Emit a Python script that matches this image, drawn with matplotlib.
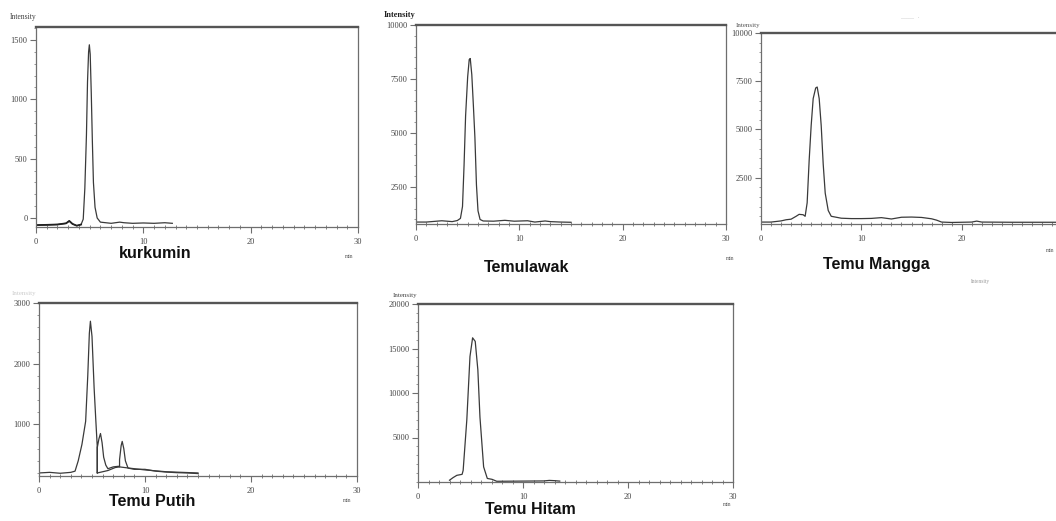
"""
Five HPLC chromatograms (kurkumin + four Curcuma extracts) laid out
as in the scanned figure: three on top, two below.
"""

import matplotlib
matplotlib.use("Agg")
import matplotlib.pyplot as plt
from matplotlib.ticker import MultipleLocator, FixedLocator

W, H = 1056, 521

# ── Traces (retention time in min, intensity) ───────────────────────────
kurkumin_t = [0, 1, 2, 2.8, 3.1, 3.4, 3.8, 4.2, 4.4, 4.55, 4.7, 4.8, 4.9, 4.97,
              5.05, 5.15, 5.25, 5.35, 5.5, 5.7, 6.0, 7.0, 7.8, 8.2, 9, 10, 11, 12, 12.7]
kurkumin_i = [-60, -58, -55, -45, -25, -50, -65, -55, -10, 250, 700, 1150, 1400, 1460,
              1380, 1050, 650, 300, 90, 0, -35, -45, -35, -40, -45, -42, -45, -40, -45]

temulawak_t = [0, 1, 2, 2.5, 3, 3.5, 4, 4.3, 4.5, 4.65, 4.8, 5.0, 5.15, 5.25, 5.4,
               5.55, 5.7, 5.85, 6.0, 6.2, 6.5, 7.5, 8.6, 9.5, 10.8, 11.5, 12.5, 13, 14, 15]
temulawak_i = [880, 880, 920, 940, 920, 900, 950, 1050, 1600, 3500, 5800, 7600, 8400, 8450, 7700,
               6300, 4800, 2600, 1400, 1000, 930, 920, 960, 920, 940, 880, 930, 900, 880, 870]

mangga_t = [0, 1, 2, 2.5, 3, 3.5, 3.8, 4.2, 4.4, 4.6, 4.8, 5.0, 5.2, 5.45, 5.6, 5.8,
            6.0, 6.2, 6.4, 6.7, 7.0, 8.0, 9, 10, 11, 12, 13, 14, 15, 16, 17, 17.5,
            18, 19, 20, 21, 21.5, 22, 25, 30]
mangga_i = [200, 200, 260, 320, 350, 500, 600, 580, 500, 1200, 3400, 5200, 6600, 7150, 7200, 6600,
            5200, 3200, 1700, 800, 500, 400, 380, 380, 390, 430, 360, 450, 460, 440, 370, 300,
            200, 180, 190, 200, 250, 200, 190, 190]

putih_t = [0, 1, 2, 3, 3.4, 3.7, 4.05, 4.4, 4.6, 4.75, 4.85, 5.0, 5.2, 5.35, 5.5, 5.5, 5.5,
           5.65, 5.8, 5.95, 6.1, 6.3, 6.5, 7.0, 7.5, 7.6, 7.6, 7.75, 7.85, 8.0, 8.15, 8.4,
           9, 10, 11, 12, 13, 14, 15]
putih_i = [200, 210, 195, 210, 230, 400, 670, 1050, 1800, 2500, 2700, 2450, 1600, 1100, 620, 200, 620,
           760, 850, 700, 460, 330, 270, 300, 310, 300, 420, 650, 720, 600, 400, 280,
           260, 260, 230, 215, 205, 200, 190]
putih_base_t = [5.5, 6.5, 7.2, 7.6, 8.5, 10, 12, 15]
putih_base_i = [200, 240, 290, 300, 280, 250, 220, 200]

hitam_t = [3.0, 3.35, 3.7, 4.2, 4.3, 4.65, 4.95, 5.2, 5.45, 5.7, 5.9, 6.25, 6.6, 7.05, 7.5,
           12.0, 12.5, 13.0, 13.5]
hitam_i = [200, 500, 750, 860, 1300, 7000, 14100, 16200, 15800, 12600, 7300, 1700, 400, 300, 80,
           120, 180, 150, 100]

x_ticks = [0, 10, 20, 30]
x_labels = ["0", "10", "20", "30"]

panel_names = ["kurkumin", "Temulawak", "Temu Mangga", "Temu Putih", "Temu Hitam"]
y_ticks = [
    [0, 500, 1000, 1500],
    [2500, 5000, 7500, 10000],
    [2500, 5000, 7500, 10000],
    [1000, 2000, 3000],
    [5000, 10000, 15000, 20000],
]
y_limits = [(-76, 1610), (790, 10000), (100, 10000), (150, 3000), (0, 20000)]

LINE = "#3a3a3a"
SPINE = "#6e6e6e"
TICKTXT = "#444444"


def px_rect(left, top, right, bottom):
    return [left / W, 1 - bottom / H, (right - left) / W, (bottom - top) / H]


def ftext(x, y, s, **kw):
    fig.text(x / W, 1 - y / H, s, **kw)


fig = plt.figure(figsize=(W / 100, H / 100), dpi=100)
fig.patch.set_facecolor("white")

rects = [
    px_rect(36, 27, 358, 227),
    px_rect(416, 25, 726, 224),
    px_rect(761, 33, 1062, 224),     # runs past the right edge, as in the scan
    px_rect(39, 303, 357, 476),
    px_rect(418, 304, 733, 482),
]
y_minor = [100, 500, 500, 200, 1000]

axes = []
for k, rect in enumerate(rects):
    ax = fig.add_axes(rect)
    ax.set_xlim(0, 30)
    ax.set_ylim(*y_limits[k])
    ax.xaxis.set_major_locator(FixedLocator(x_ticks))
    labels = list(x_labels)
    if k == 2:
        labels[-1] = ""              # "30" falls off the page in the scan
    ax.set_xticklabels(labels)
    ax.xaxis.set_minor_locator(MultipleLocator(1))
    ax.yaxis.set_major_locator(FixedLocator(y_ticks[k]))
    ax.set_yticklabels([str(v) for v in y_ticks[k]])
    ax.yaxis.set_minor_locator(MultipleLocator(y_minor[k]))
    ax.tick_params(axis="both", which="major", labelsize=6, colors=SPINE,
                   labelcolor=TICKTXT, length=4, width=0.8, pad=2)
    ax.tick_params(axis="x", which="major", direction="out", length=4, pad=4)
    ax.tick_params(axis="x", which="minor", direction="inout", length=3, width=0.6,
                   colors=SPINE)
    ax.tick_params(axis="y", which="minor", direction="out", length=1.5, width=0.5,
                   colors=SPINE)
    for lab in ax.get_xticklabels() + ax.get_yticklabels():
        lab.set_family(["Liberation Serif", "DejaVu Serif"])
    for side in ("left", "right", "bottom"):
        ax.spines[side].set_color(SPINE)
        ax.spines[side].set_linewidth(0.9)
    ax.spines["top"].set_color("#555555")
    ax.spines["top"].set_linewidth(1.7)
    axes.append(ax)

ax1, ax2, ax3, ax4, ax5 = axes
ax1.plot(kurkumin_t, kurkumin_i, color=LINE, lw=0.9)
ax1.plot(kurkumin_t[:8], kurkumin_i[:8], color="#222222", lw=1.3)
ax2.plot(temulawak_t, temulawak_i, color=LINE, lw=0.9)
ax3.plot(mangga_t, mangga_i, color=LINE, lw=0.9)
ax4.plot(putih_t, putih_i, color=LINE, lw=0.9)
ax4.plot(putih_base_t, putih_base_i, color=LINE, lw=0.9)
ax5.plot(hitam_t, hitam_i, color=LINE, lw=0.9)

# ── Sample names under each panel ──────────────────────────────────────
name_font = ["Liberation Sans Narrow", "Liberation Sans", "DejaVu Sans"]
name_pos = [(155, 254), (527, 268), (876, 265), (152, 501), (530, 509)]
for name, (x, y) in zip(panel_names, name_pos):
    ftext(x, y, name, ha="center", va="center", fontsize=11.5, fontweight="bold",
          family=name_font, color="#111111")

# ── Small axis captions from the instrument printout ───────────────────
serif = ["Liberation Serif", "DejaVu Serif"]
ftext(37, 17, "Intensity", ha="right", va="center", fontsize=5.5, family=serif, color="#444444")
ftext(400, 15, "Intensity", ha="center", va="center", fontsize=6, family=serif,
      color="#222222", fontweight="bold")
ftext(760, 25, "Intensity", ha="right", va="center", fontsize=5, family=serif, color="#555555")
ftext(24, 293, "Intensity", ha="center", va="center", fontsize=5, family=serif, color="#cccccc")
ftext(405, 295, "Intensity", ha="center", va="center", fontsize=5, family=serif, color="#444444")
ftext(980, 281, "Intensity", ha="center", va="center", fontsize=4, family=serif, color="#999999")
ftext(910, 18, "——  ·", ha="center", va="center", fontsize=5, family=serif, color="#bbbbbb")

for x, y in [(349, 257), (730, 258), (1050, 250), (347, 500), (727, 505)]:
    ftext(x, y, "min", ha="center", va="center", fontsize=4, family=serif, color="#555555")

fig.savefig("out.png", dpi=100, facecolor="white")
plt.close(fig)
